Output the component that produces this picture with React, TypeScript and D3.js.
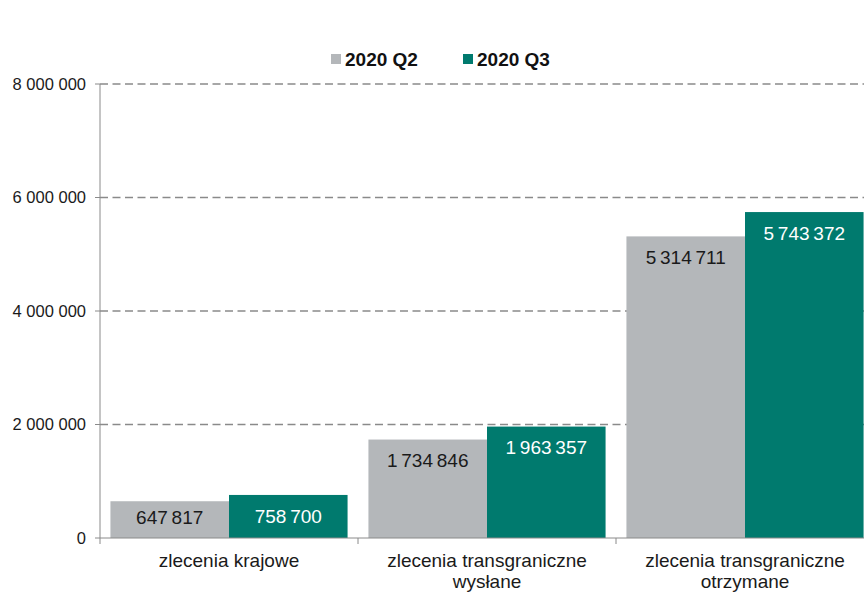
import React from 'react';
import * as d3 from 'd3';

const categories = [
  ['zlecenia krajowe'],
  ['zlecenia transgraniczne', 'wysłane'],
  ['zlecenia transgraniczne', 'otrzymane'],
];
const seriesNames = ['2020 Q2', '2020 Q3'];
const q2Values = [647817, 1734846, 5314711];
const q3Values = [758700, 1963357, 5743372];
const yTicks = [0, 2000000, 4000000, 6000000, 8000000];
const colors = ['#b4b7ba', '#007a6e'];
const labelColors = ['#1a1a1a', '#ffffff'];

const W = 864;
const H = 613;
const margin = { top: 84, right: -10, bottom: 75, left: 100 };
const font = '"Liberation Sans", Arial, sans-serif';

const fmt = (v: number) => d3.format(',')(v).replace(/,/g, '\u2009');
const fmtTick = (v: number) => d3.format(',')(v).replace(/,/g, ' ');

export default function App() {
  const x0 = d3
    .scaleBand<number>()
    .domain(categories.map((_, i) => i))
    .range([margin.left, W - margin.right])
    .padding(0);
  const x1 = d3
    .scaleBand<number>()
    .domain([0, 1])
    .range([0, x0.bandwidth()])
    .paddingInner(0)
    .paddingOuter(0.088);
  const y = d3.scaleLinear().domain([0, 8000000]).range([H - margin.bottom, margin.top]);
  const y0 = y(0);
  const series = [q2Values, q3Values];

  return (
    <svg
      width={W}
      height={H}
      style={{ position: 'absolute', left: 0, top: 0, background: '#fff', fontFamily: font }}
    >
      {/* gridlines */}
      {yTicks.slice(1).map((t) => (
        <line
          key={t}
          x1={margin.left}
          x2={W}
          y1={y(t)}
          y2={y(t)}
          stroke="#8a8a8a"
          strokeWidth={1.6}
          strokeDasharray="8 4.5"
        />
      ))}

      {/* bars */}
      {categories.map((_, ci) =>
        series.map((vals, si) => {
          const bx = (x0(ci) ?? 0) + (x1(si) ?? 0);
          const by = y(vals[ci]);
          return (
            <rect
              key={`${ci}-${si}`}
              x={bx}
              y={by}
              width={x1.bandwidth()}
              height={y0 - by}
              fill={colors[si]}
            />
          );
        })
      )}

      {/* data labels */}
      {categories.map((_, ci) =>
        series.map((vals, si) => {
          const bx = (x0(ci) ?? 0) + (x1(si) ?? 0) + x1.bandwidth() / 2;
          const ly = Math.min(y(vals[ci]) + 21, y0 - 21);
          return (
            <text
              key={`l-${ci}-${si}`}
              x={bx}
              y={ly}
              dy="0.35em"
              textAnchor="middle"
              fontSize={19}
              fill={labelColors[si]}
            >
              {fmt(vals[ci])}
            </text>
          );
        })
      )}

      {/* y axis */}
      <line x1={margin.left} x2={margin.left} y1={margin.top} y2={y0} stroke="#8a8a8a" strokeWidth={1} />
      {yTicks.map((t) => (
        <g key={`yt-${t}`}>
          <line x1={margin.left - 5} x2={margin.left} y1={y(t)} y2={y(t)} stroke="#8a8a8a" />
          <text
            x={margin.left - 14}
            y={y(t)}
            dy="0.35em"
            textAnchor="end"
            fontSize={16.5}
            fill="#1a1a1a"
          >
            {fmtTick(t)}
          </text>
        </g>
      ))}

      {/* x axis */}
      <line x1={margin.left} x2={W} y1={y0} y2={y0} stroke="#8a8a8a" strokeWidth={1} />
      {categories.map((_, ci) => (
        <line
          key={`xt-${ci}`}
          x1={x0(ci)}
          x2={x0(ci)}
          y1={y0}
          y2={y0 + 6}
          stroke="#8a8a8a"
        />
      ))}
      {categories.map((lines, ci) => (
        <text
          key={`xl-${ci}`}
          x={(x0(ci) ?? 0) + x0.bandwidth() / 2}
          y={y0 + 22}
          textAnchor="middle"
          fontSize={19}
          fill="#1a1a1a"
        >
          {lines.map((ln, li) => (
            <tspan key={li} x={(x0(ci) ?? 0) + x0.bandwidth() / 2} dy={li === 0 ? '0.35em' : 21.5}>
              {ln}
            </tspan>
          ))}
        </text>
      ))}

      {/* legend */}
      {seriesNames.map((name, si) => {
        const lx = [331, 463][si];
        return (
          <g key={name}>
            <rect x={lx} y={54} width={10} height={10} fill={colors[si]} />
            <text x={lx + 14} y={59} dy="0.35em" fontSize={19} fontWeight="bold" fill="#111">
              {name}
            </text>
          </g>
        );
      })}
    </svg>
  );
}
